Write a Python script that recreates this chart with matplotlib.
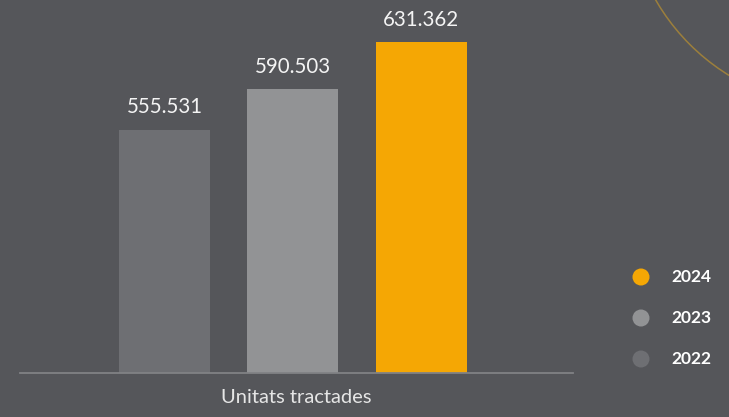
import matplotlib.pyplot as plt
from matplotlib.patches import Circle

# dades
anys = ["2022", "2023", "2024"]
valors = [555531, 590503, 631362]
etiquetes = ["555.531", "590.503", "631.362"]
colors = ["#6e6f73", "#929395", "#f5a704"]
eix_x = "Unitats tractades"

fons = "#55565a"
plt.rcParams["font.family"] = ["Lato", "DejaVu Sans"]

fig = plt.figure(figsize=(7.29, 4.17), dpi=100, facecolor=fons)

# arc decoratiu a dalt a la dreta
deco = fig.add_axes([0, 0, 1, 1])
deco.set_xlim(0, 729)
deco.set_ylim(417, 0)
deco.axis("off")
deco.add_patch(Circle((841, -107), 214, fill=False, ec="#9c7f3c", lw=1.1))

ax = fig.add_axes([20 / 729, 1 - 372.7 / 417, 553 / 729, 372.7 / 417])
ax.set_facecolor("none")
x = range(len(valors))
bars = ax.bar(x, valors, width=0.708, color=colors, zorder=2)
ax.set_xlim(-1.125, 3.18)
ax.set_ylim(345000, 667770)

for b, t in zip(bars, etiquetes):
    ax.annotate(t, (b.get_x() + b.get_width() / 2, b.get_height()),
                xytext=(0, 9), textcoords="offset points",
                ha="center", va="bottom", color="#f4f4f4",
                fontsize=14.8)

for s in ["top", "right", "left"]:
    ax.spines[s].set_visible(False)
ax.spines["bottom"].set_color("#818285")
ax.spines["bottom"].set_linewidth(1.3)
ax.set_xticks([])
ax.set_yticks([])
ax.set_xlabel(eix_x, color="#e6e6e6", fontsize=14.5, labelpad=12)

# llegenda
for i, (a, c) in enumerate(zip(anys[::-1], colors[::-1])):
    yy = 277 + i * 41
    deco.add_patch(Circle((641, yy), 8.5, color=c, ec="none"))
    deco.text(671, yy, a, color="white", fontsize=12.5, fontweight="bold",
              va="center", ha="left")

fig.savefig("out.png", dpi=100, facecolor=fons)
